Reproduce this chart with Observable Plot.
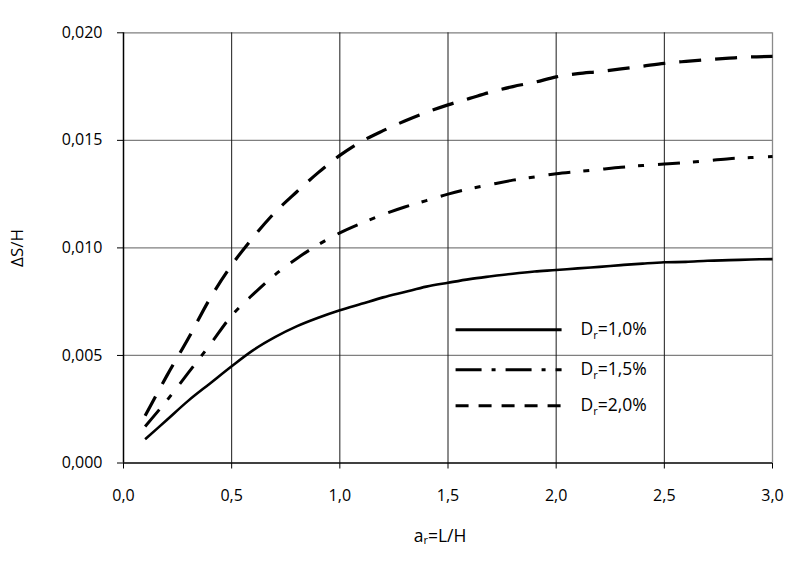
<!DOCTYPE html>
<html><head><meta charset="utf-8">
<script src="https://cdn.jsdelivr.net/npm/d3@7"></script>
<script src="https://cdn.jsdelivr.net/npm/@observablehq/plot@0.6"></script>
<style>body{margin:0;background:#fff}</style>
</head><body><div id="chart"></div>
<script>
// ----- data -----
const xs = [0.1,0.2,0.3,0.4,0.5,0.6,0.7,0.8,0.9,1.0,1.1,1.2,1.3,1.4,1.5,1.6,1.7,1.8,1.9,2.0,2.1,2.2,2.3,2.4,2.5,2.6,2.7,2.8,2.9,3.0];
const dr10 = [0.0011,0.0020,0.0029,0.0037,0.0045,0.00525,0.00585,0.00635,0.00675,0.0071,0.0074,0.0077,0.00795,0.0082,0.00838,0.00855,0.00868,0.0088,0.0089,0.00897,0.00905,0.00912,0.0092,0.00927,0.00933,0.00935,0.0094,0.00943,0.00946,0.00948];
const dr15 = [0.0017,0.0029,0.0042,0.0055,0.00685,0.00785,0.00875,0.0095,0.01015,0.0107,0.01115,0.01155,0.0119,0.0122,0.0125,0.01275,0.01295,0.01315,0.0133,0.01345,0.01355,0.01365,0.01375,0.01383,0.0139,0.01397,0.01405,0.01415,0.0142,0.01425];
const dr20 = [0.0022,0.00405,0.0058,0.00765,0.0092,0.0105,0.01165,0.0126,0.0135,0.0143,0.01495,0.01545,0.0159,0.0163,0.01665,0.01695,0.01725,0.0175,0.0177,0.01795,0.0181,0.0182,0.01832,0.01845,0.01858,0.01867,0.01875,0.01882,0.01888,0.0189];
const seriesLabels = ["1,0%","1,5%","2,0%"];
const xTicks = [0,0.5,1.0,1.5,2.0,2.5,3.0];
const yTicks = [0,0.005,0.010,0.015,0.020];
const xGrid = [0.5,1.0,1.5,2.0,2.5];
const yGrid = [0.005,0.010,0.015,0.020];
const xLabel = ["a","r","=L/H"];
const yLabel = "\u0394S/H";
// legend anchor (data units)
const legendX1 = 1.535, legendX2 = 2.025, legendTextX = 2.113;
const legendY = [0.0062, 0.00433, 0.00266];

const toRows = ys => xs.map((x,i)=>({x, y: ys[i]}));
const commaFmt = (dec) => d => d3.format("." + dec + "f")(d).replace(".", ",");

const lineStyles = [
  {strokeWidth: 2.6, strokeDasharray: null, legendDash: null},
  {strokeWidth: 3.0, strokeDasharray: "22,13,6,14", legendDash: "26,10,4,10"},
  {strokeWidth: 3.2, strokeDasharray: "22,14", legendDash: "13,10"}
];
const allSeries = [dr10, dr15, dr20];

const marks = [
  Plot.ruleY(yGrid, {stroke: "#7f7f7f", strokeWidth: 1.3}),
  Plot.ruleX(xGrid, {stroke: "#1a1a1a", strokeWidth: 1}),
  Plot.ruleX([3.0], {stroke: "#8a8a8a", strokeWidth: 1.3}),
  Plot.ruleY([0], {stroke: "black", strokeWidth: 1.5}),
  Plot.ruleX([0], {stroke: "black", strokeWidth: 1.5})
];
allSeries.forEach((ys, k) => {
  const st = lineStyles[k];
  marks.push(Plot.line(toRows(ys), {x: "x", y: "y", stroke: "black", strokeWidth: st.strokeWidth,
    strokeDasharray: st.strokeDasharray ?? undefined, curve: "catmull-rom", strokeLinecap: "butt"}));
  marks.push(Plot.link([k], {x1: () => legendX1, x2: () => legendX2, y1: () => legendY[k], y2: () => legendY[k],
    stroke: "black", strokeWidth: 3, strokeDasharray: st.legendDash ?? undefined, strokeLinecap: "butt"}));
});
marks.push(Plot.text(seriesLabels, {x: () => legendTextX, y: (d, i) => legendY[seriesLabels.indexOf(d)], text: d => d,
  textAnchor: "start", fill: "black", fontSize: 17.5, className: "lgtext"}));

const plot = Plot.plot({
  width: 796, height: 561,
  marginLeft: 123, marginRight: 24, marginTop: 32.3, marginBottom: 98.5,
  style: {fontFamily: "'Open Sans', sans-serif", fontSize: "16px", background: "white", color: "black"},
  x: {domain: [0, 3], ticks: xTicks, tickFormat: commaFmt(1), tickSize: 6, tickPadding: 21, label: null},
  y: {domain: [0, 0.02], ticks: yTicks, tickFormat: commaFmt(3), tickSize: 6, tickPadding: 15, label: null},
  marks
});
document.getElementById("chart").appendChild(plot);

const svg = d3.select(plot);
// subscripts in legend labels
svg.selectAll(".lgtext text").each(function() {
  const t = d3.select(this);
  const rest = t.text();
  t.text(null);
  t.append("tspan").text("D");
  t.append("tspan").attr("font-size", "11px").attr("dy", "4").text("r");
  t.append("tspan").attr("dy", "-4").text("=" + rest);
});
// axis titles
const xt = svg.append("text").attr("x", 440).attr("y", 537).attr("text-anchor", "middle")
  .attr("dominant-baseline", "middle").attr("font-size", 17.5).attr("fill", "black");
xt.append("tspan").text(xLabel[0]);
xt.append("tspan").attr("font-size", "11px").attr("dy", "4").text(xLabel[1]);
xt.append("tspan").attr("dy", "-4").text(xLabel[2]);
svg.append("text").attr("transform", "translate(18,248) rotate(-90)").attr("text-anchor", "middle")
  .attr("dominant-baseline", "middle").attr("font-size", 17).attr("fill", "black").text(yLabel);
</script>
</body></html>
